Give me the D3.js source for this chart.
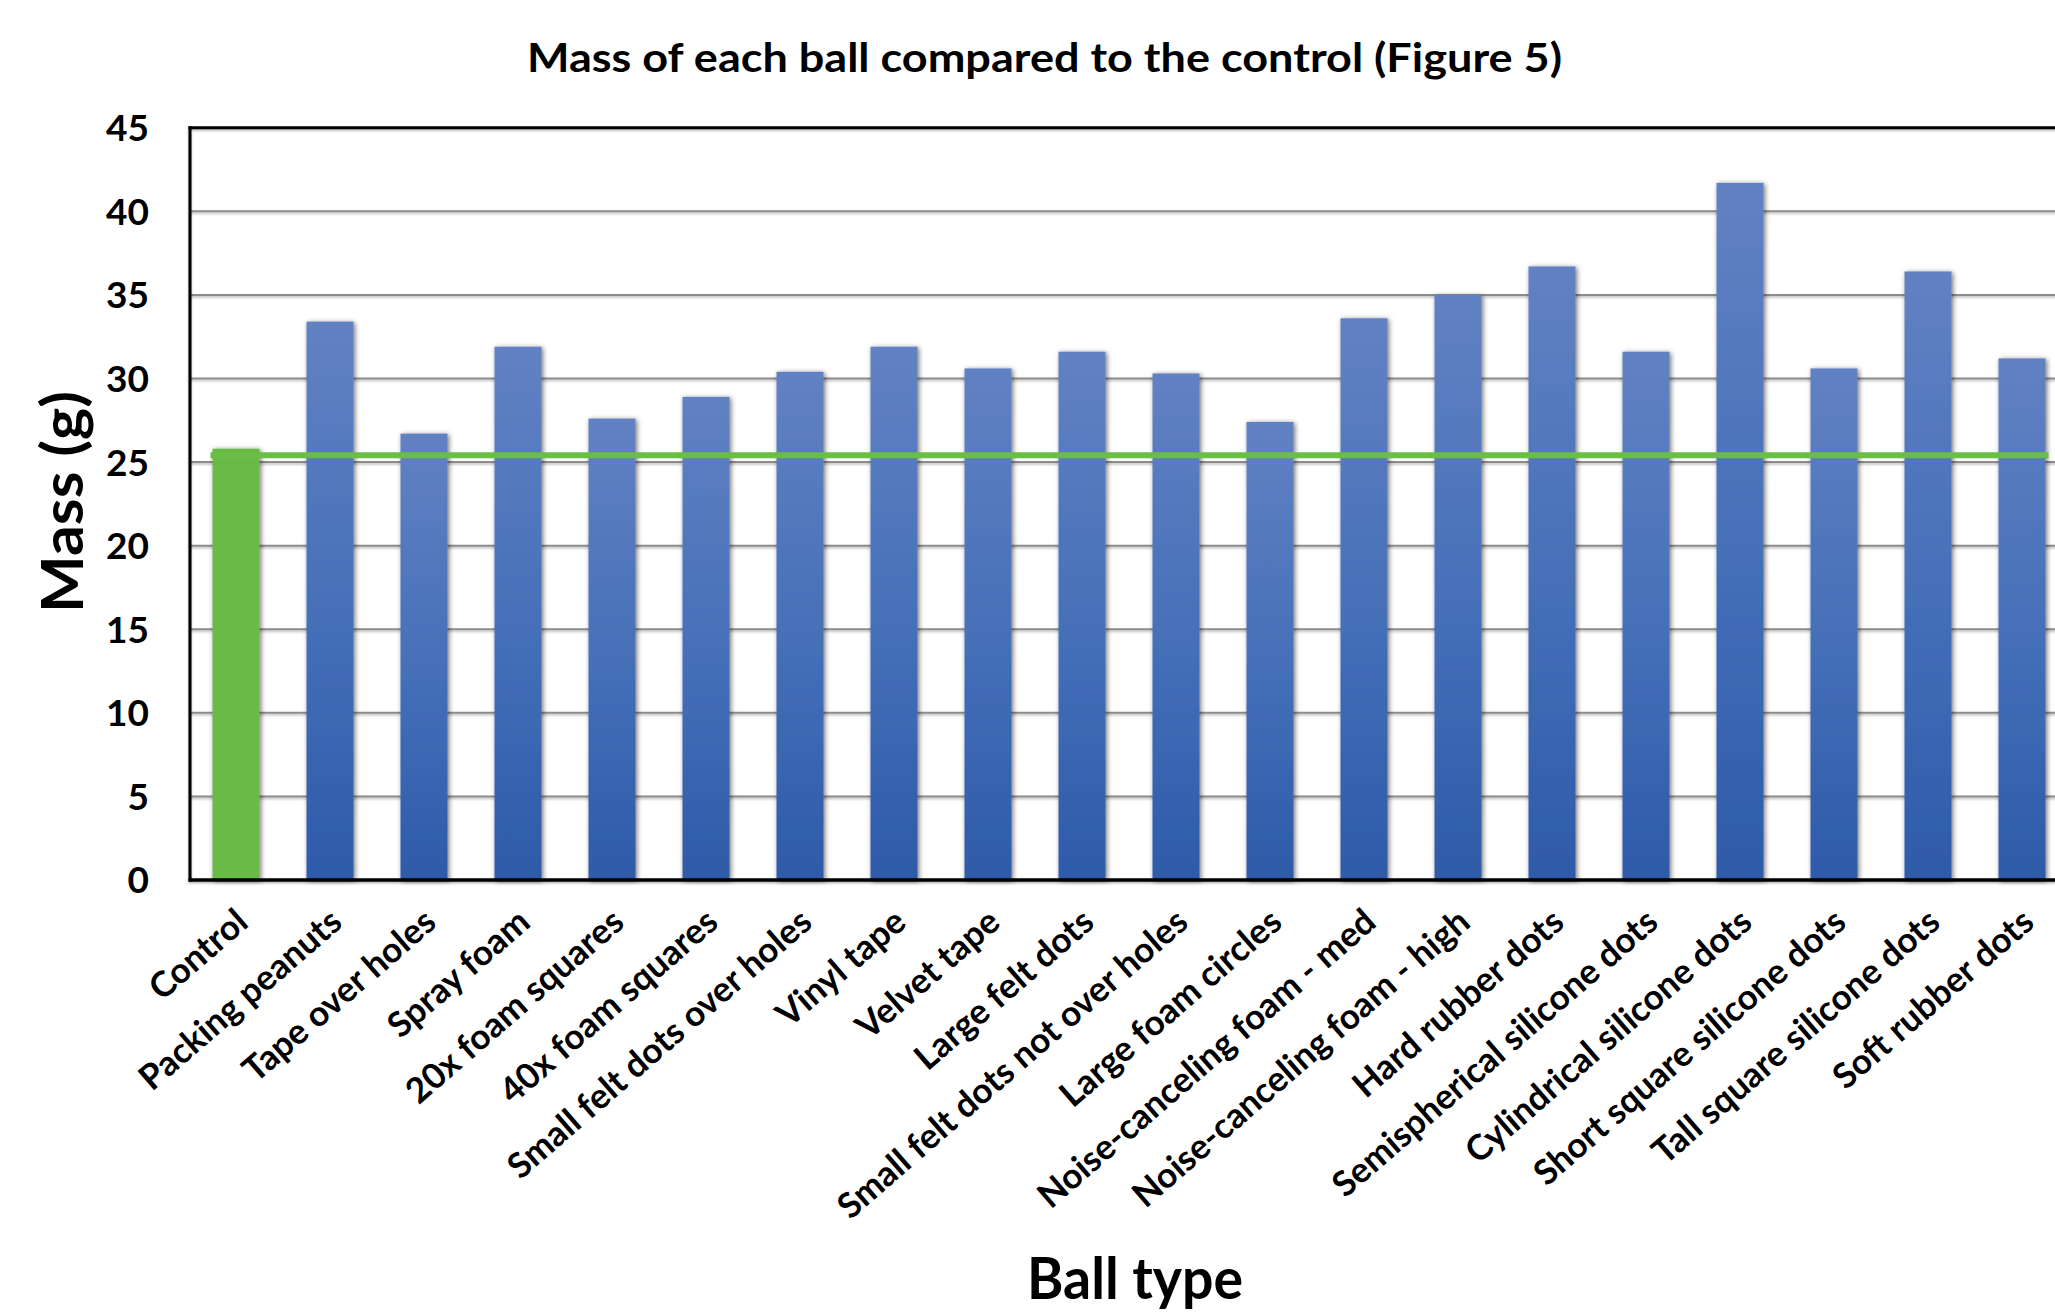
<!DOCTYPE html>
<html>
<head>
<meta charset="utf-8">
<script src="https://cdn.jsdelivr.net/npm/d3@7"></script>
<style>
  html, body { margin: 0; padding: 0; background: #ffffff; }
  svg { display: block; }
  text { font-family: Lato, "Open Sans", "DejaVu Sans", sans-serif; font-weight: 700; fill: #000; }
</style>
</head>
<body>
<script>
// Ball types, in plotting order
const categories = [
  "Control",
  "Packing peanuts",
  "Tape over holes",
  "Spray foam",
  "20x foam squares",
  "40x foam squares",
  "Small felt dots over holes",
  "Vinyl tape",
  "Velvet tape",
  "Large felt dots",
  "Small felt dots not over holes",
  "Large foam circles",
  "Noise-canceling foam - med",
  "Noise-canceling foam - high",
  "Hard rubber dots",
  "Semispherical silicone dots",
  "Cylindrical silicone dots",
  "Short square silicone dots",
  "Tall square silicone dots",
  "Soft rubber dots"
];

// Mass of each ball (g)
const masses = [
  25.8, 33.4, 26.7, 31.9, 27.6, 28.9, 30.4, 31.9, 30.6, 31.6,
  30.3, 27.4, 33.6, 35.0, 36.7, 31.6, 41.7, 30.6, 36.4, 31.2
];

// Reference level of the control ball (g)
const controlMass = 25.4;

const yTicks = [0, 5, 10, 15, 20, 25, 30, 35, 40, 45];

const W = 2055, H = 1314;
const plot = { left: 190, right: 2071, top: 127.7, bottom: 880 };

const svg = d3.select("body").append("svg")
  .attr("width", W).attr("height", H)
  .attr("viewBox", `0 0 ${W} ${H}`);

const defs = svg.append("defs");

const grad = defs.append("linearGradient")
  .attr("id", "barBlue")
  .attr("x1", 0).attr("y1", 0).attr("x2", 0).attr("y2", 1);
grad.append("stop").attr("offset", "0%").attr("stop-color", "#6281c2");
grad.append("stop").attr("offset", "55%").attr("stop-color", "#446fb8");
grad.append("stop").attr("offset", "100%").attr("stop-color", "#2e5aa8");

const shadow = defs.append("filter")
  .attr("id", "softShadow")
  .attr("x", "-40%").attr("y", "-10%").attr("width", "180%").attr("height", "120%");
shadow.append("feDropShadow")
  .attr("dx", 1.5).attr("dy", 1)
  .attr("stdDeviation", 2.8)
  .attr("flood-color", "#000").attr("flood-opacity", 0.55);

const lineShadow = defs.append("filter")
  .attr("id", "lineShadow")
  .attr("x", "-5%").attr("y", "-200%").attr("width", "110%").attr("height", "500%");
lineShadow.append("feDropShadow")
  .attr("dx", 0).attr("dy", 1.5)
  .attr("stdDeviation", 1)
  .attr("flood-color", "#000").attr("flood-opacity", 0.3);

svg.append("rect").attr("width", W).attr("height", H).attr("fill", "#fff");

const x = d3.scaleBand()
  .domain(categories)
  .range([189, 2069])
  .paddingInner(0.5)
  .paddingOuter(0.25);

const y = d3.scaleLinear()
  .domain([0, 45])
  .range([plot.bottom, plot.top]);

// Horizontal gridlines
svg.append("g")
  .attr("filter", "url(#lineShadow)")
  .selectAll("line")
  .data(yTicks.filter(t => t > 0 && t < 45))
  .join("line")
  .attr("x1", plot.left).attr("x2", plot.right)
  .attr("y1", d => y(d)).attr("y2", d => y(d))
  .attr("stroke", "#8c8c8c")
  .attr("stroke-width", 2);

// Y axis tick labels
const yAxis = d3.axisLeft(y).tickValues(yTicks).tickSize(0).tickPadding(0);
const yg = svg.append("g")
  .attr("transform", "translate(149,0)")
  .call(yAxis);
yg.select(".domain").remove();
yg.selectAll("text")
  .attr("font-size", 37)
  .attr("font-family", null)
  .attr("dy", "0.35em");

// Bars
svg.append("g")
  .selectAll("rect")
  .data(categories)
  .join("rect")
  .attr("x", d => x(d))
  .attr("width", x.bandwidth())
  .attr("y", (d, i) => y(masses[i]))
  .attr("height", (d, i) => y(0) - y(masses[i]))
  .attr("fill", (d, i) => i === 0 ? "#6aba46" : "url(#barBlue)")
  .attr("filter", "url(#softShadow)");

// Control reference line
svg.append("line")
  .attr("x1", x(categories[0]) - 2)
  .attr("x2", x(categories[categories.length - 1]) + x.bandwidth() + 3)
  .attr("y1", y(controlMass)).attr("y2", y(controlMass))
  .attr("stroke", "#6abd45")
  .attr("stroke-width", 6);

// Plot frame: top border, left axis and baseline
const frame = svg.append("g").attr("filter", "url(#lineShadow)");
frame.append("line")
  .attr("x1", plot.left - 1.5).attr("x2", plot.right)
  .attr("y1", plot.top).attr("y2", plot.top)
  .attr("stroke", "#000").attr("stroke-width", 3);
frame.append("line")
  .attr("x1", plot.left - 1.5).attr("x2", plot.right)
  .attr("y1", plot.bottom).attr("y2", plot.bottom)
  .attr("stroke", "#000").attr("stroke-width", 3.5);
frame.append("line")
  .attr("x1", plot.left).attr("x2", plot.left)
  .attr("y1", plot.top - 1.5).attr("y2", plot.bottom + 1.5)
  .attr("stroke", "#000").attr("stroke-width", 3);

// Rotated category labels
svg.append("g")
  .selectAll("text")
  .data(categories)
  .join("text")
  .attr("transform", d => `translate(${x(d) + x.bandwidth() / 2 + 6},916) rotate(-41)`)
  .attr("text-anchor", "end")
  .attr("dy", "0.35em")
  .attr("font-size", 35)
  .text(d => d);

// Chart title
svg.append("text")
  .attr("x", 1044.5).attr("y", 72)
  .attr("text-anchor", "middle")
  .attr("font-size", 41)
  .attr("textLength", 1035)
  .attr("lengthAdjust", "spacingAndGlyphs")
  .text("Mass of each ball compared to the control (Figure 5)");

// Y axis title
svg.append("text")
  .attr("transform", "translate(83,502) rotate(-90)")
  .attr("text-anchor", "middle")
  .attr("font-size", 58)
  .attr("textLength", 222)
  .attr("lengthAdjust", "spacingAndGlyphs")
  .text("Mass (g)");

// X axis title
svg.append("text")
  .attr("x", 1135).attr("y", 1299)
  .attr("text-anchor", "middle")
  .attr("font-size", 58)
  .attr("textLength", 216)
  .attr("lengthAdjust", "spacingAndGlyphs")
  .text("Ball type");
</script>
</body>
</html>
